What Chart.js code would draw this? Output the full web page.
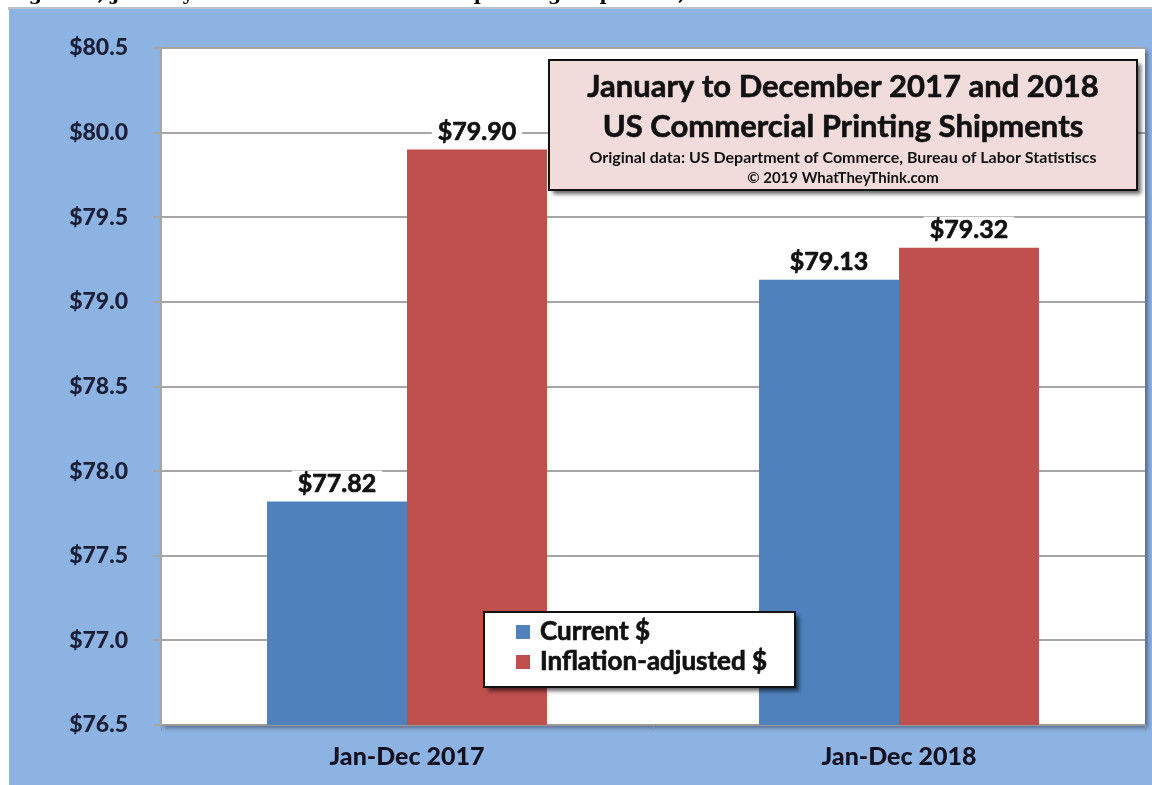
<!DOCTYPE html>
<html>
<head>
<meta charset="utf-8">
<title>US Commercial Printing Shipments</title>
<script src="https://cdn.jsdelivr.net/npm/chart.js@4.4.1/dist/chart.umd.min.js"></script>
<style>
  html, body { margin: 0; padding: 0; background: #ffffff; }
  #wrap { position: relative; width: 1152px; height: 785px; }
  canvas { display: block; }
</style>
</head>
<body>
<div id="wrap"><canvas id="chart" width="1152" height="785"></canvas></div>
<script>
// Shipments, billions of dollars
const categories = ['Jan-Dec 2017', 'Jan-Dec 2018'];
const currentDollars = [77.82, 79.13];
const inflationAdjusted = [79.90, 79.32];
const seriesNames = ['Current $', 'Inflation-adjusted $'];
const yMin = 76.5, yMax = 80.5, yStep = 0.5;

const headerText = 'Figure 1, January to December commercial printing shipments, 2017 and 2018';
const titleLines = ['January to December 2017 and 2018', 'US Commercial Printing Shipments'];
const sourceLines = ['Original data: US Department of Commerce, Bureau of Labor Statistiscs', '\u00A9 2019 WhatTheyThink.com'];

const BLUE = '#4f81bd';
const RED = '#c0504d';
const PANEL = '#8db3e2';
const FONT = 'Lato, "Open Sans", sans-serif';

const fmtMoney = (v, d) => '$' + Number(v).toFixed(d);

// filled text with a thin outline for a heavier look
function heavyText(ctx, txt, x, y, color, weight) {
  ctx.fillStyle = color;
  ctx.fillText(txt, x, y);
  ctx.strokeStyle = color;
  ctx.lineWidth = weight;
  ctx.lineJoin = 'round';
  ctx.strokeText(txt, x, y);
}

// background panel, plot-area shadow and page header
const backdrop = {
  id: 'backdrop',
  beforeDraw(chart) {
    const ctx = chart.ctx, a = chart.chartArea;
    ctx.save();
    ctx.fillStyle = '#ffffff';
    ctx.fillRect(0, 0, chart.width, chart.height);
    // header line, cut off at the top edge
    ctx.fillStyle = '#000000';
    ctx.font = 'bold 19px "DejaVu Serif", serif';
    ctx.textBaseline = 'alphabetic';
    ctx.textAlign = 'left';
    ctx.fillText(headerText, 8, -0.5);
    ctx.fillStyle = '#b9c3cf';
    ctx.fillRect(8, 7, chart.width - 8, 3);
    ctx.fillStyle = PANEL;
    ctx.fillRect(9, 9, chart.width - 9, chart.height - 9);
    // plot area with soft drop shadow
    ctx.shadowColor = 'rgba(40,50,70,0.55)';
    ctx.shadowBlur = 4;
    ctx.shadowOffsetX = 3;
    ctx.shadowOffsetY = 3;
    ctx.fillStyle = '#ffffff';
    ctx.fillRect(a.left, a.top, a.right - a.left, a.bottom - a.top);
    ctx.restore();
  }
};

// value labels above each bar on a white ground
const valueLabels = {
  id: 'valueLabels',
  afterDatasetsDraw(chart) {
    const ctx = chart.ctx;
    ctx.save();
    ctx.font = 'bold 25px ' + FONT;
    ctx.textAlign = 'center';
    ctx.textBaseline = 'middle';
    chart.data.datasets.forEach((ds, i) => {
      chart.getDatasetMeta(i).data.forEach((bar, j) => {
        const txt = fmtMoney(ds.data[j], 2);
        const w = ctx.measureText(txt).width;
        const y = bar.y - 18;
        ctx.fillStyle = '#ffffff';
        ctx.fillRect(bar.x - w / 2 - 6, y - 13, w + 12, 26);
        heavyText(ctx, txt, bar.x, y, '#111111', 0.7);
      });
    });
    ctx.restore();
  }
};

function boxWithShadow(ctx, x, y, w, h, fill) {
  ctx.save();
  ctx.shadowColor = 'rgba(0,0,0,0.6)';
  ctx.shadowBlur = 4;
  ctx.shadowOffsetX = 4;
  ctx.shadowOffsetY = 4;
  ctx.fillStyle = fill;
  ctx.fillRect(x, y, w, h);
  ctx.restore();
  ctx.save();
  ctx.strokeStyle = '#111111';
  ctx.lineWidth = 2;
  ctx.strokeRect(x, y, w, h);
  ctx.restore();
}

// title box and legend box
const overlays = {
  id: 'overlays',
  afterDraw(chart) {
    const ctx = chart.ctx;
    // title box
    const tx = 549, ty = 60, tw = 588, th = 130;
    boxWithShadow(ctx, tx, ty, tw, th, '#f2dcdb');
    ctx.save();
    ctx.textAlign = 'center';
    ctx.textBaseline = 'middle';
    const cx = tx + tw / 2;
    ctx.font = 'bold 31px ' + FONT;
    heavyText(ctx, titleLines[0], cx, 87, '#111111', 0.6);
    heavyText(ctx, titleLines[1], cx, 127, '#111111', 0.6);
    ctx.font = 'bold 16px ' + FONT;
    ctx.fillStyle = '#111111';
    ctx.fillText(sourceLines[0], cx, 158);
    ctx.font = 'bold 15px ' + FONT;
    ctx.fillText(sourceLines[1], cx, 178);
    ctx.restore();

    // legend box
    const lx = 484, ly = 612, lw = 311, lh = 75;
    boxWithShadow(ctx, lx, ly, lw, lh, '#ffffff');
    ctx.save();
    ctx.textAlign = 'left';
    ctx.textBaseline = 'middle';
    ctx.font = 'bold 26px ' + FONT;
    chart.data.datasets.forEach((ds, i) => {
      const cy = 632 + i * 30;
      ctx.fillStyle = ds.backgroundColor;
      ctx.fillRect(516, cy - 7, 14, 14);
      heavyText(ctx, ds.label, 540, cy, '#111111', 0.7);
    });
    ctx.restore();
  }
};

new Chart(document.getElementById('chart'), {
  type: 'bar',
  data: {
    labels: categories,
    datasets: [
      { label: seriesNames[0], data: currentDollars, backgroundColor: BLUE, borderWidth: 0 },
      { label: seriesNames[1], data: inflationAdjusted, backgroundColor: RED, borderWidth: 0 }
    ]
  },
  options: {
    responsive: false,
    animation: false,
    devicePixelRatio: 1,
    layout: { padding: { left: 0, top: 48, right: 7, bottom: 0 } },
    datasets: { bar: { categoryPercentage: 0.569, barPercentage: 1.0 } },
    plugins: { legend: { display: false }, tooltip: { enabled: false }, title: { display: false } },
    scales: {
      x: {
        afterFit(scale) { scale.height = 60; },
        grid: { drawOnChartArea: false, drawTicks: true, tickLength: 6, color: '#8a96a8', lineWidth: 1 },
        border: { display: true, color: '#9a9a9a', width: 2 },
        ticks: { color: '#111122', font: { family: FONT, size: 25, weight: 900 }, padding: 11 }
      },
      y: {
        min: yMin,
        max: yMax,
        afterFit(scale) { scale.width = 161; },
        afterBuildTicks(scale) {
          const t = [];
          for (let v = yMin; v <= yMax + 1e-9; v += yStep) t.push({ value: Math.round(v * 10) / 10 });
          scale.ticks = t;
        },
        grid: { color: '#a6a6a6', lineWidth: 2, tickLength: 8, drawTicks: true },
        border: { display: true, color: '#a6a6a6', width: 2 },
        ticks: {
          color: '#1a1f38',
          font: { family: FONT, size: 23, weight: 900 },
          padding: 25,
          callback: v => fmtMoney(v, 1)
        }
      }
    }
  },
  plugins: [backdrop, valueLabels, overlays]
});
</script>
</body>
</html>
